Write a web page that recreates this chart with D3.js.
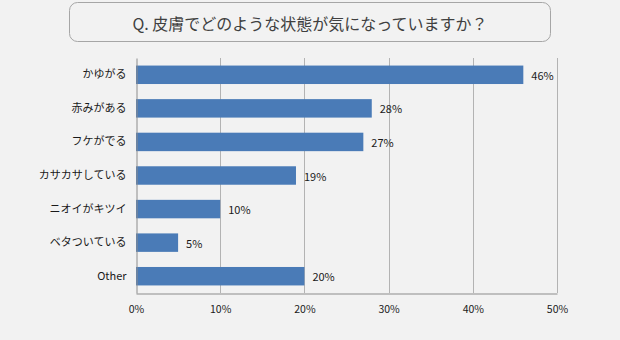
<!DOCTYPE html>
<html>
<head>
<meta charset="utf-8">
<script src="https://cdn.jsdelivr.net/npm/d3@7"></script>
<style>
  html, body { margin: 0; padding: 0; background: #f2f2f2; }
  svg { display: block; }
  text { font-family: "Noto Sans CJK JP", "Noto Sans", sans-serif; fill: #1a1a1a; }
</style>
</head>
<body>
<svg id="chart" width="620" height="340"></svg>
<script>
const title = "Q. 皮膚でどのような状態が気になっていますか？";
const categories = ["かゆがる", "赤みがある", "フケがでる", "カサカサしている", "ニオイがキツイ", "ベタついている", "Other"];
const values = [46, 28, 27, 19, 10, 5, 20];
const tickValues = [0, 10, 20, 30, 40, 50];

const svg = d3.select("#chart");
const W = 620, H = 340;
const margin = { top: 58, right: 63, bottom: 47, left: 136 };

svg.append("rect").attr("width", W).attr("height", H).attr("fill", "#f2f2f2");

// Title box
svg.append("rect")
  .attr("x", 69.5).attr("y", 2.5).attr("width", 481).attr("height", 39)
  .attr("rx", 8).attr("ry", 8)
  .attr("fill", "#f2f2f2").attr("stroke", "#a6a6a6").attr("stroke-width", 1);
svg.append("text")
  .attr("x", 310).attr("y", 22.5)
  .attr("text-anchor", "middle").attr("dominant-baseline", "central")
  .style("font-size", "16px").style("fill", "#404040")
  .text(title);

const x = d3.scaleLinear().domain([0, 50]).range([margin.left, W - margin.right]);
const y = d3.scaleBand().domain(categories).range([margin.top, H - margin.bottom]).paddingInner(0.45).paddingOuter(0.225);

// Vertical gridlines
svg.append("g").selectAll("line")
  .data(tickValues.filter(d => d > 0))
  .join("line")
  .attr("x1", d => Math.round(x(d)) + 0.5).attr("x2", d => Math.round(x(d)) + 0.5)
  .attr("y1", margin.top).attr("y2", H - margin.bottom)
  .attr("stroke", "#b3b3b3").attr("stroke-width", 1);

// Bars
svg.append("g").selectAll("rect")
  .data(values)
  .join("rect")
  .attr("x", x(0))
  .attr("y", (d, i) => y(categories[i]))
  .attr("width", d => x(d) - x(0))
  .attr("height", y.bandwidth())
  .attr("fill", "#4a7bb7");

// Value labels
svg.append("g").selectAll("text")
  .data(values)
  .join("text")
  .attr("x", d => x(d) + 8)
  .attr("y", (d, i) => y(categories[i]) + y.bandwidth() / 2)
  .attr("dominant-baseline", "central")
  .style("font-size", "11px")
  .text(d => d + "%");

// X axis
const xAxis = d3.axisBottom(x).tickValues(tickValues).tickFormat(d => d + "%").tickSize(0).tickPadding(12);
const gx = svg.append("g").attr("transform", `translate(0,${H - margin.bottom + 0.5})`).call(xAxis);
gx.select(".domain").attr("stroke", "#8c8c8c");
gx.selectAll("text").style("font-size", "10.5px").style("fill", "#1a1a1a");

// Y axis
const yAxis = d3.axisLeft(y).tickSize(0).tickPadding(10);
const gy = svg.append("g").attr("transform", `translate(${margin.left + 0.5},0)`).call(yAxis);
gy.select(".domain").attr("stroke", "#8c8c8c");
gy.selectAll("text").style("font-size", "11px").style("fill", "#1a1a1a");
</script>
</body>
</html>
